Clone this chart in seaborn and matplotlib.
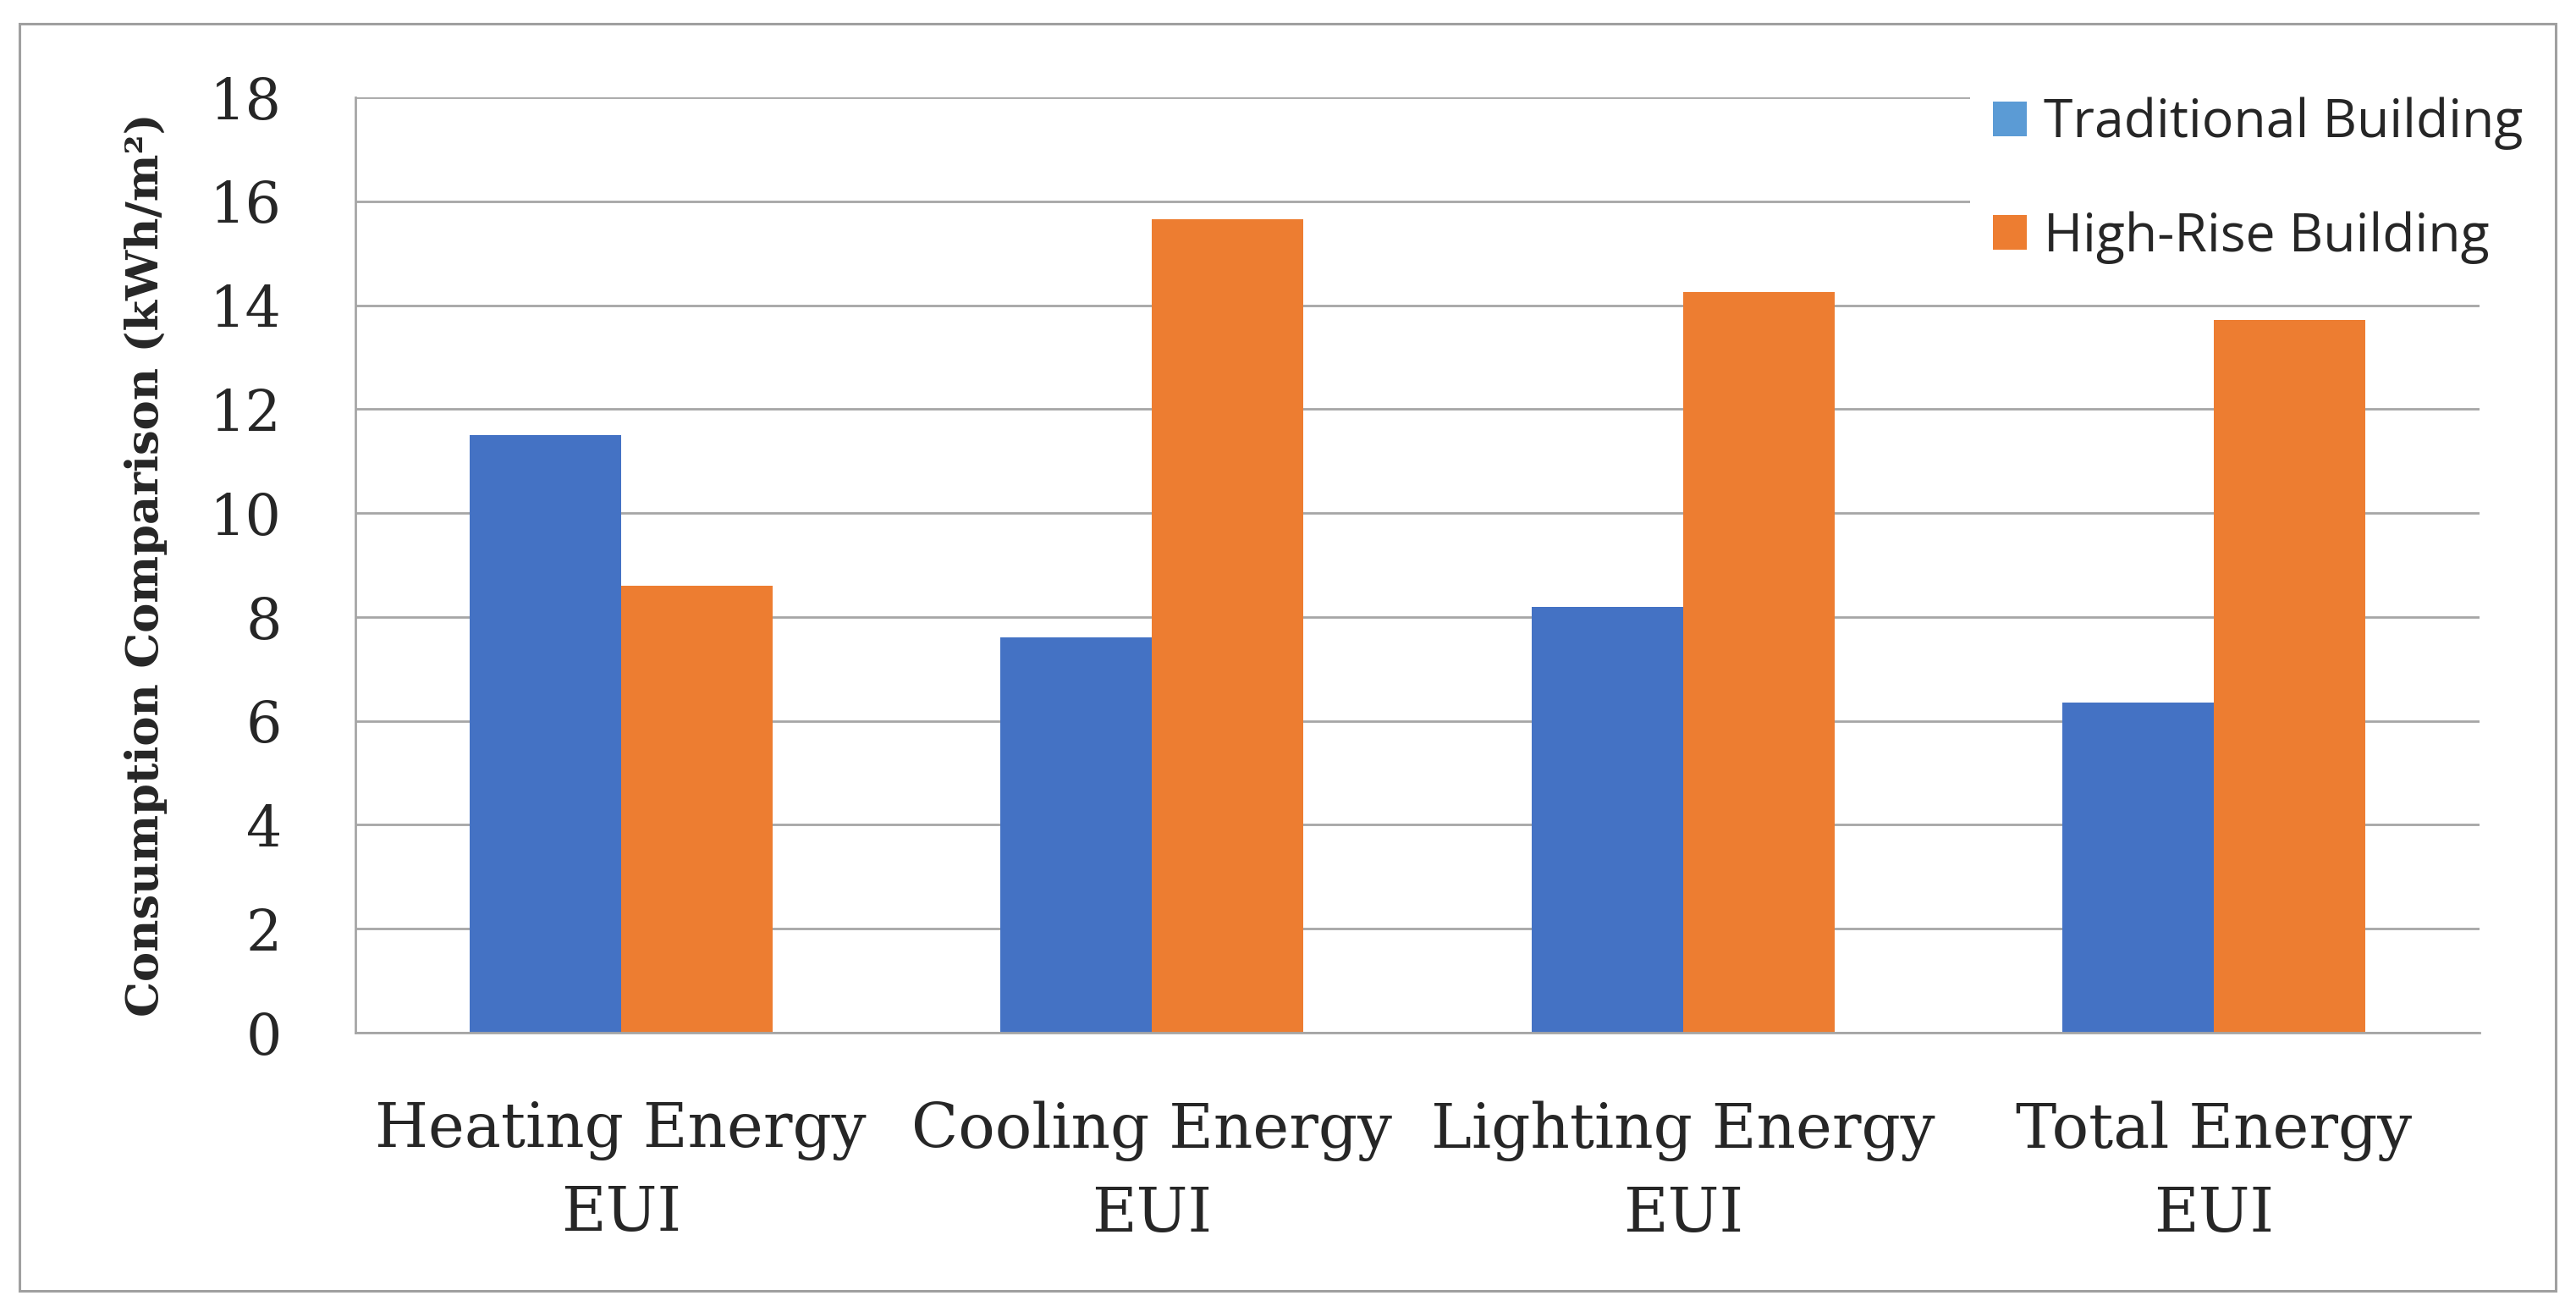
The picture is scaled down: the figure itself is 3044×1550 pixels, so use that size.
import matplotlib
matplotlib.use("Agg")
import pandas as pd
import matplotlib.pyplot as plt
import seaborn as sns
from matplotlib.patches import Rectangle, Patch

# chart data
categories = ["Heating Energy\nEUI", "Cooling Energy\nEUI", "Lighting Energy\nEUI", "Total Energy\nEUI"]
series_names = ["Traditional Building", "High-Rise Building"]
traditional = [11.5, 7.6, 8.2, 6.35]
high_rise = [8.6, 15.65, 14.25, 13.72]
y_ticks = [0, 2, 4, 6, 8, 10, 12, 14, 16, 18]

bar_colors = ["#4472C4", "#ED7D31"]
legend_colors = ["#5B9BD5", "#ED7D31"]
grey = "#A6A6A6"

df = pd.DataFrame({
    "category": categories * 2,
    "building": [series_names[0]] * len(categories) + [series_names[1]] * len(categories),
    "value": traditional + high_rise,
})

sns.set_style("white")
plt.rcParams["font.family"] = ["DejaVu Serif"]

W, H = 3044, 1550
fig = plt.figure(figsize=(W / 100, H / 100), dpi=100)
ax = fig.add_axes([420 / W, 330 / H, 2510 / W, 1105 / H])

sns.barplot(data=df, x="category", y="value", hue="building", palette=bar_colors,
            width=0.571, linewidth=0, saturation=1, ax=ax, legend=False)

ax.set_ylim(0, 18)
ax.set_yticks(y_ticks)
ax.set_xticks(range(len(categories)), labels=categories, linespacing=1.5)
ax.set_xlabel("")
ax.set_ylabel("Consumption Comparison (kWh/m²)", fontsize=38, fontweight="bold", labelpad=36)

ax.yaxis.grid(True, color=grey, linewidth=2)
ax.set_axisbelow(True)
for side in ["top", "right"]:
    ax.spines[side].set_visible(False)
for side in ["left", "bottom"]:
    ax.spines[side].set_color(grey)
    ax.spines[side].set_linewidth(2)

ax.tick_params(axis="y", length=21.6, width=2, color=grey, pad=41, labelsize=48)
ax.tick_params(axis="x", length=0, pad=58, labelsize=52)

# legend sits over the top right of the plot with an opaque white box
handles = [Patch(facecolor=c, edgecolor="none") for c in legend_colors]
leg = ax.legend(handles, series_names, loc="upper left",
                bbox_to_anchor=(2328 / W, 1 - 88 / H), bbox_transform=fig.transFigure,
                frameon=True, fancybox=False, framealpha=1, facecolor="white",
                prop={"family": "Open Sans", "size": 45},
                handlelength=0.64, handleheight=0.64, handletextpad=0.32,
                labelspacing=1.15, borderpad=0.43, borderaxespad=0)
leg.get_frame().set_linewidth(0)

# outer frame round the whole chart
fig.add_artist(Rectangle((23 / W, 1 - 1525 / H), (3020 - 23) / W, (1525 - 28) / H,
                         transform=fig.transFigure, fill=False, edgecolor="#A0A0A0",
                         linewidth=2.2, zorder=10))

fig.savefig("out.png", dpi=100)
